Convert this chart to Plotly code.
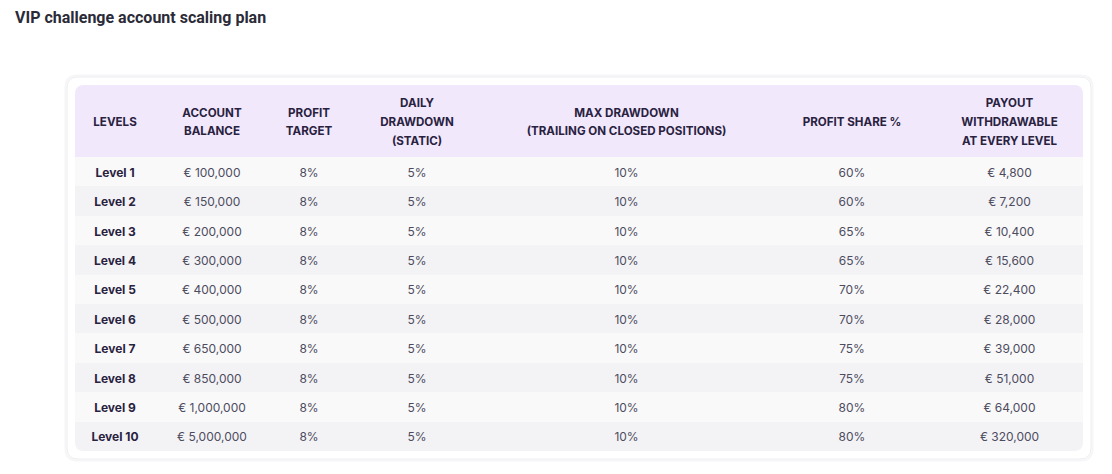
import plotly.graph_objects as go

W, H = 1112, 474

title = "VIP challenge account scaling plan"

headers = [
    "LEVELS",
    "ACCOUNT<br>BALANCE",
    "PROFIT<br>TARGET",
    "DAILY<br>DRAWDOWN<br>(STATIC)",
    "MAX DRAWDOWN<br>(TRAILING ON CLOSED POSITIONS)",
    "PROFIT SHARE %",
    "PAYOUT<br>WITHDRAWABLE<br>AT EVERY LEVEL",
]

levels = ["Level 1", "Level 2", "Level 3", "Level 4", "Level 5",
          "Level 6", "Level 7", "Level 8", "Level 9", "Level 10"]
account_balance = ["€ 100,000", "€ 150,000", "€ 200,000", "€ 300,000", "€ 400,000",
                   "€ 500,000", "€ 650,000", "€ 850,000", "€ 1,000,000", "€ 5,000,000"]
profit_target = ["8%"] * 10
daily_drawdown = ["5%"] * 10
max_drawdown = ["10%"] * 10
profit_share = ["60%", "60%", "65%", "65%", "70%", "70%", "75%", "75%", "80%", "80%"]
payout = ["€ 4,800", "€ 7,200", "€ 10,400", "€ 15,600", "€ 22,400",
          "€ 28,000", "€ 39,000", "€ 51,000", "€ 64,000", "€ 320,000"]

col_widths = [80, 114, 80, 136, 283, 168, 147]

FONT = "Inter, Lato, sans-serif"
HEAD_C = "#29223f"
TEXT_C = "#4d4c5e"
HEAD_BG = "#f1e8fc"
ROW_A = "#f9f9fa"
ROW_B = "#f3f3f6"
CLEAR = "rgba(0,0,0,0)"
NB = "\u00a0"  # keep each cell on one line

tx0, tx1 = 75, 1083
ty0 = 85
HEAD_H = 72
ROW_H = 29.4
ty1 = ty0 + HEAD_H + ROW_H * len(levels)
LINE_H = 18.8          # header line pitch
HEAD_TEXT_OFF = 11.3   # header text centre below a row top
CELL_TEXT_OFF = 12.0   # cell text centre below a row top (plotly default)
CELL_TEXT_POS = 14.7   # wanted cell text centre below a row top
FIRST_LINE = 101.7     # centre of first line of a 3-line header
SPACER_H = 10          # empty header of the body-text layer


def px(x):
    return x / W


def py(y):
    return 1 - y / H


def nb(s):
    return s.replace(" ", NB)


# split header labels into centred single lines: odd line counts on grid A,
# even line counts on grid B (shifted half a line)
grid_a = [["", "", ""] for _ in headers]
grid_b = [["", ""] for _ in headers]
for i, h in enumerate(headers):
    lines = [nb(l) for l in h.split("<br>")]
    n = len(lines)
    if n % 2:
        start = (3 - n) // 2
        for k, l in enumerate(lines):
            grid_a[i][start + k] = l
    else:
        start = (2 - n) // 2
        for k, l in enumerate(lines):
            grid_b[i][start + k] = l

row_fill = [ROW_A if i % 2 == 0 else ROW_B for i in range(len(levels))]
columns = [[nb(v) for v in col] for col in
           [levels, account_balance, profit_target, daily_drawdown,
            max_drawdown, profit_share, payout]]

# background table: header + row fills
base = go.Table(
    domain=dict(x=[px(tx0), px(tx1)], y=[py(ty1 + 1), py(ty0)]),
    columnwidth=col_widths,
    header=dict(
        values=[""] * len(headers),
        fill_color=HEAD_BG,
        line=dict(color=HEAD_BG, width=0),
        height=HEAD_H,
    ),
    cells=dict(
        values=[[""] * len(levels) for _ in headers],
        fill_color=[row_fill] * len(headers),
        line=dict(color=[row_fill] * len(headers), width=0),
        height=ROW_H,
    ),
)

# body text (transparent, nudged down to centre text in its row)
body_top = ty0 + HEAD_H + CELL_TEXT_POS - CELL_TEXT_OFF - SPACER_H
body = go.Table(
    domain=dict(x=[px(tx0), px(tx1)], y=[py(ty1 + 8), py(body_top)]),
    columnwidth=col_widths,
    header=dict(values=[""] * len(headers), fill_color=CLEAR,
                line=dict(color=CLEAR, width=0), height=SPACER_H),
    cells=dict(
        values=columns,
        fill_color=CLEAR,
        line=dict(color=CLEAR, width=0),
        align="center",
        font=dict(family=FONT, size=12,
                  color=[HEAD_C] + [TEXT_C] * 6,
                  weight=[700] + [400] * 6),
        height=ROW_H,
    ),
)


def header_layer(grid, top):
    return go.Table(
        domain=dict(x=[px(tx0), px(tx1)], y=[py(ty1), py(top)]),
        columnwidth=col_widths,
        header=dict(
            values=grid,
            fill_color=CLEAR,
            line=dict(color=CLEAR, width=0),
            align="center",
            font=dict(family=FONT, size=11.6, color=HEAD_C, weight=700),
            height=LINE_H,
        ),
        cells=dict(values=[[] for _ in headers], fill_color=CLEAR,
                   line=dict(color=CLEAR, width=0)),
    )


layer_a = header_layer(grid_a, FIRST_LINE - HEAD_TEXT_OFF)
layer_b = header_layer(grid_b, FIRST_LINE + LINE_H / 2 - HEAD_TEXT_OFF)

fig = go.Figure([base, body, layer_a, layer_b])


def rounded(x0, y0, x1, y1, r):
    return (f"M {px(x0 + r)},{py(y0)} L {px(x1 - r)},{py(y0)} "
            f"Q {px(x1)},{py(y0)} {px(x1)},{py(y0 + r)} L {px(x1)},{py(y1 - r)} "
            f"Q {px(x1)},{py(y1)} {px(x1 - r)},{py(y1)} L {px(x0 + r)},{py(y1)} "
            f"Q {px(x0)},{py(y1)} {px(x0)},{py(y1 - r)} L {px(x0)},{py(y0 + r)} "
            f"Q {px(x0)},{py(y0)} {px(x0 + r)},{py(y0)} Z")


def corner_mask(cx, cy, sx, sy, r):
    return (f"M {px(cx)},{py(cy)} L {px(cx + sx * r)},{py(cy)} "
            f"Q {px(cx)},{py(cy)} {px(cx)},{py(cy + sy * r)} Z")


shapes = [
    dict(type="path", xref="paper", yref="paper", path=rounded(65.5, 75.5, 1092.5, 460.5, 12),
         line=dict(color="#f6f6f8", width=2), fillcolor="white", layer="below"),
    dict(type="path", xref="paper", yref="paper", path=rounded(67, 77, 1091, 459, 11),
         line=dict(color="#eeeef2", width=1), fillcolor="white", layer="below"),
]
for cx, cy, sx, sy in [(tx0, ty0, 1, 1), (tx1, ty0, -1, 1), (tx0, ty1, 1, -1), (tx1, ty1, -1, -1)]:
    shapes.append(dict(type="path", xref="paper", yref="paper", path=corner_mask(cx, cy, sx, sy, 9),
                       line=dict(width=0), fillcolor="white", layer="above"))

fig.update_layout(
    width=W, height=H,
    margin=dict(l=0, r=0, t=0, b=0),
    paper_bgcolor="white",
    plot_bgcolor="white",
    shapes=shapes,
    annotations=[dict(
        text=f"<b>{title}</b>", xref="paper", yref="paper",
        x=px(13), y=py(17), xanchor="left", yanchor="middle",
        showarrow=False, font=dict(family="Roboto, Inter, sans-serif", size=16, color="#2b2b38"),
    )],
)

fig.write_html("out.html", config={"displayModeBar": False},
               post_script="document.body.style.margin='0';")
